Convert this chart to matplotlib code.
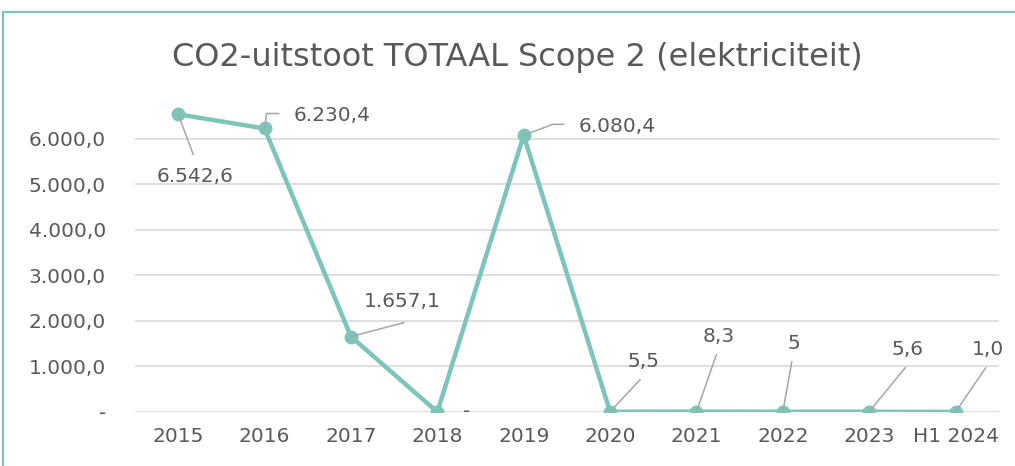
import matplotlib.pyplot as plt
from matplotlib.patches import Rectangle
from matplotlib.lines import Line2D

categories = ['2015', '2016', '2017', '2018', '2019', '2020', '2021', '2022', '2023', 'H1 2024']
values = [6542.6, 6230.4, 1657.1, 0.0, 6080.4, 5.5, 8.3, 5.0, 5.6, 1.0]
labels = ['6.542,6', '6.230,4', '1.657,1', '-', '6.080,4', '5,5', '8,3', '5', '5,6', '1,0']
yticks = [0, 1000, 2000, 3000, 4000, 5000, 6000]
ytick_labels = ['-', '1.000,0', '2.000,0', '3.000,0', '4.000,0', '5.000,0', '6.000,0']

# label placement in pixels relative to the point: (dx, dy, ha, leader path)
placement = [
    (17, -62, 'center', [(0, 0), (15, -40)]),
    (29, 13, 'left', [(0, 0), (2, 15), (14, 15)]),
    (51, 35, 'center', [(0, 0), (53, 14)]),
    (29, 0, 'center', None),
    (55, 9, 'left', [(0, 0), (29, 11), (40, 11)]),
    (33, 50, 'center', [(0, 0), (30, 32)]),
    (22, 75, 'center', [(0, 0), (20, 57)]),
    (11, 68, 'center', [(0, 0), (9, 50)]),
    (38, 62, 'center', [(0, 0), (36, 44)]),
    (32, 62, 'center', [(0, 0), (30, 44)]),
]

line_color = '#7DC4B9'
text_color = '#595959'
lead_color = '#A6A6A6'

fig = plt.figure(figsize=(10.15, 4.66), dpi=100)
ax = fig.add_axes([0.133, 0.1159, 0.851, 0.6835])

x = list(range(len(categories)))
ax.plot(x, values, color=line_color, lw=3.2, marker='o', ms=9, solid_capstyle='round', zorder=3)

ax.set_ylim(0, 7000)
ax.set_xlim(-0.5, len(categories) - 0.5)
ax.set_yticks(yticks)
ax.set_yticklabels(ytick_labels)
ax.set_xticks(x)
ax.set_xticklabels(categories)
ax.tick_params(length=0, labelsize=14.5, labelcolor=text_color)
ax.tick_params(axis='y', pad=21)
ax.tick_params(axis='x', pad=11)
ax.grid(axis='y', color='#D9D9D9', lw=1.2)
ax.set_axisbelow(True)
for s in ax.spines.values():
    s.set_visible(False)

for xi, v, lab, (dx, dy, ha, path) in zip(x, values, labels, placement):
    ax.annotate(lab, (xi, v), xytext=(dx, dy), textcoords='offset pixels',
                ha=ha, va='center', fontsize=14.5, color=text_color)
    if path:
        px, py = ax.transData.transform((xi, v))
        xs = [px + p[0] for p in path]
        ys = [py + p[1] for p in path]
        fig.add_artist(Line2D(xs, ys, transform=None, color=lead_color, lw=1.1, zorder=2))

fig.text(0.51, 0.877, 'CO2-uitstoot TOTAAL Scope 2 (elektriciteit)', ha='center', va='center',
         fontsize=23, color=text_color)

# chart frame (cut off at right and bottom)
fig.patches.append(Rectangle((3 / 1015, -0.1), 1.2, (466 - 12) / 466 + 0.1,
                             transform=fig.transFigure, fill=False,
                             edgecolor=line_color, lw=1.5))

fig.savefig('out.png', dpi=100)
